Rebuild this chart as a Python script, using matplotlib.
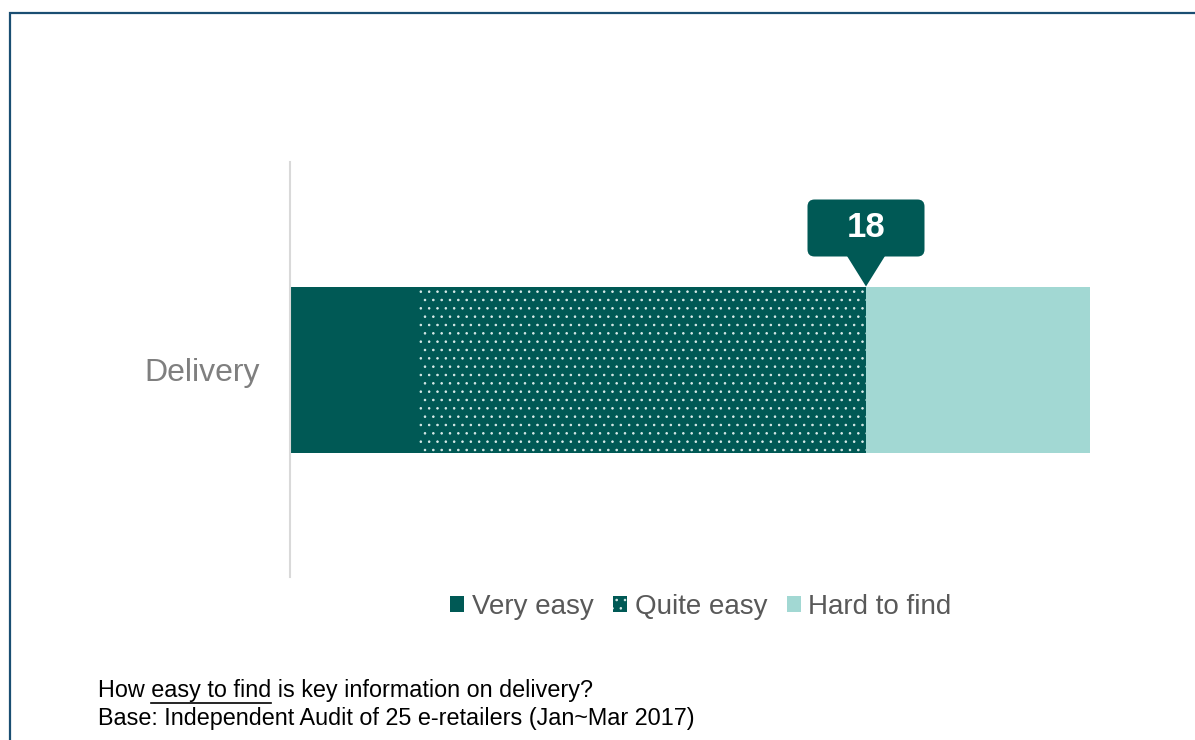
import matplotlib
matplotlib.use("Agg")
import matplotlib.pyplot as plt
from matplotlib.patches import Patch, FancyBboxPatch, Polygon, Rectangle
from matplotlib.lines import Line2D
from matplotlib.transforms import ScaledTranslation

# Data: number of e-retailers (out of 25) by how easy delivery info was to find
category = ["Delivery"]
segments = ["Very easy", "Quite easy", "Hard to find"]
counts = [4, 14, 7]
total_retailers = 25

colors = ["#005955", "#005955", "#A2D8D3"]
hatches = [None, "..", None]
dot_color = "#DCEDEB"

plt.rcParams["font.family"] = ["Liberation Sans", "DejaVu Sans"]
plt.rcParams["hatch.linewidth"] = 0.6

W, H = 1195, 740
fig = plt.figure(figsize=(W / 100, H / 100), dpi=100)

ax = fig.add_axes([290 / W, 1 - 577 / H, 800 / W, 415 / H])
left = 0
for seg, val, col, hat in zip(segments, counts, colors, hatches):
    ax.barh(category, val, left=left, height=0.4, color=col,
            edgecolor=dot_color if hat else col, linewidth=0, hatch=hat,
            label=seg)
    left += val

ax.set_xlim(0, total_retailers)
ax.set_ylim(-0.5, 0.5)
for s in ["top", "right", "bottom"]:
    ax.spines[s].set_visible(False)
ax.spines["left"].set_color("#D9D9D9")
ax.spines["left"].set_linewidth(1.5)
ax.set_xticks([])
ax.tick_params(axis="y", length=0, pad=22, labelsize=23, labelcolor="#7F7F7F")

# Callout marking the combined "easy" total
easy_total = counts[0] + counts[1]
anchor = ScaledTranslation(easy_total, 0.2, ax.transData)
trans = fig.dpi_scale_trans + anchor
callout_color = "#005955"
box = FancyBboxPatch((-0.525, 0.36), 1.05, 0.45,
                     boxstyle="round,pad=0.06,rounding_size=0.07",
                     transform=trans, facecolor=callout_color,
                     edgecolor="none", clip_on=False)
tip = Polygon([(-0.19, 0.305), (0.19, 0.305), (0.0, 0.0)], closed=True,
              transform=trans, facecolor=callout_color, edgecolor="none",
              clip_on=False)
ax.add_patch(box)
ax.add_patch(tip)
ax.text(0, 0.59, str(easy_total), transform=trans, ha="center", va="center",
        color="white", fontsize=25, fontweight="bold")

# Legend
handles = [Patch(facecolor=c, edgecolor=dot_color if h else c, linewidth=0,
                 hatch=h, label=s)
           for s, c, h in zip(segments, colors, hatches)]
leg = fig.legend(handles=handles, loc="center", ncol=3, frameon=False,
                 bbox_to_anchor=(701 / W, 1 - 607 / H), fontsize=20,
                 handlelength=0.5, handleheight=0.5, handletextpad=0.28,
                 columnspacing=0.7, borderaxespad=0)
for t in leg.get_texts():
    t.set_color("#595959")

# Footnote with underlined phrase
fs = 16.8
x0 = 98 / W
y1 = 1 - 691 / H
y2 = 1 - 719 / H
pre, key, post = "How ", "easy to find", " is key information on delivery?"
fig.text(x0, y1, pre + key + post, fontsize=fs, color="black", va="center")
fig.text(x0, y2, "Base: Independent Audit of 25 e-retailers (Jan~Mar 2017)",
         fontsize=fs, color="black", va="center")

renderer = fig.canvas.get_renderer()


def text_width(s):
    t = fig.text(0, 0, s, fontsize=fs)
    w = t.get_window_extent(renderer).width
    t.remove()
    return w


w_pre = text_width("How x") - text_width("x")
w_key = text_width(key)
ux0 = x0 + w_pre / W
ux1 = ux0 + w_key / W
uy = 1 - 703 / H
fig.add_artist(Line2D([ux0, ux1], [uy, uy], transform=fig.transFigure,
                      color="black", linewidth=1.2))

# Frame around the slide area
fig.add_artist(Rectangle((10 / W, -0.05), 1.1, 1 - 13 / H + 0.05,
                         transform=fig.transFigure, facecolor="none",
                         edgecolor="#1A4E72", linewidth=1.6, clip_on=False))

fig.savefig("out.png", dpi=100)
